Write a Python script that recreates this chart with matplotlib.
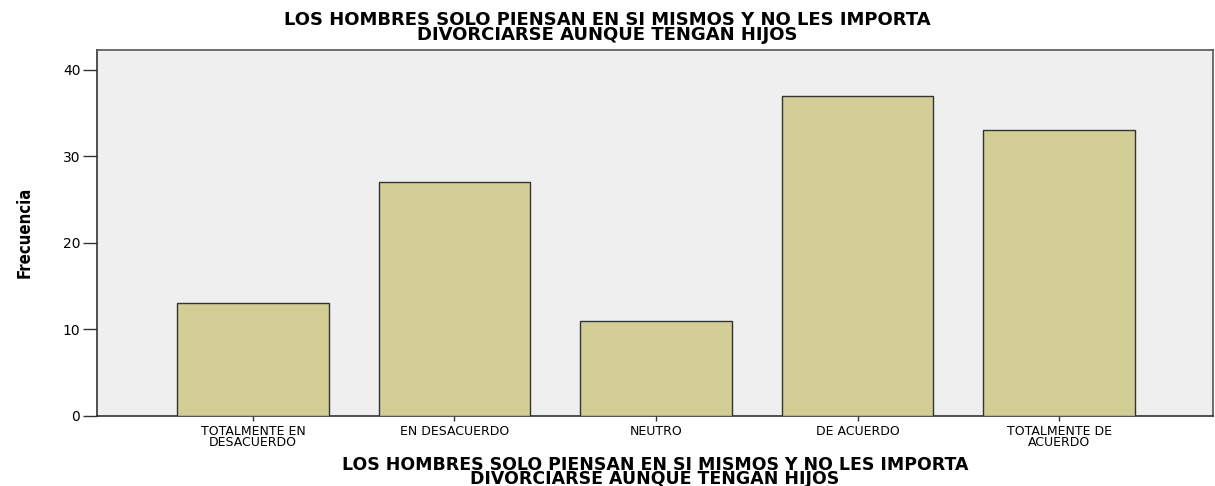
import matplotlib
matplotlib.use("Agg")
import matplotlib.pyplot as plt

categories = ["TOTALMENTE EN\nDESACUERDO", "EN DESACUERDO", "NEUTRO",
              "DE ACUERDO", "TOTALMENTE DE\nACUERDO"]
frecuencias = [13, 27, 11, 37, 33]
yticks = [0, 10, 20, 30, 40]
title_text = ("LOS HOMBRES SOLO PIENSAN EN SI MISMOS Y NO LES IMPORTA\n"
              "DIVORCIARSE AUNQUE TENGAN HIJOS")
ylabel_text = "Frecuencia"

base = "DejaVu Sans"

fig = plt.figure(figsize=(12.15, 4.86), dpi=100)
fig.patch.set_facecolor("white")
ax = fig.add_axes([97/1215, 1-415.7/486, (1213-97)/1215, (415.7-50)/486])
ax.set_facecolor("#EFEFEF")

x = list(range(len(categories)))
ax.bar(x, frecuencias, width=0.754, color="#D2CE96", edgecolor="#333333",
       linewidth=1.0, zorder=3)
ax.set_xlim(-0.774, 4.764)
ax.set_ylim(0, 42.3)
ax.set_yticks(yticks)
ax.set_yticklabels([str(v) for v in yticks], fontfamily=base, fontsize=10)
ax.set_xticks(x)
ax.set_xticklabels(categories, fontfamily=base, fontsize=9, linespacing=0.8)
ax.tick_params(axis="y", length=10, width=1, color="#333333", pad=2)
ax.tick_params(axis="x", length=3.6, width=1, color="#333333", pad=3.0)
for s in ax.spines.values():
    s.set_color("#555555")
    s.set_linewidth(1.2)
ax.spines["left"].set_color("#333333")
ax.spines["bottom"].set_color("#333333")

ax.set_ylabel(ylabel_text, fontfamily=base, fontstretch="condensed",
              fontweight="bold", fontsize=12, labelpad=21)
ax.set_xlabel(title_text, fontfamily=base, fontweight="bold", fontsize=12.5,
              linespacing=0.72, labelpad=5)
fig.text(0.5, 1-11/486, title_text, ha="center", va="top", fontfamily=base,
         fontweight="bold", fontsize=13, linespacing=0.75)

fig.savefig("out.png", dpi=100)
